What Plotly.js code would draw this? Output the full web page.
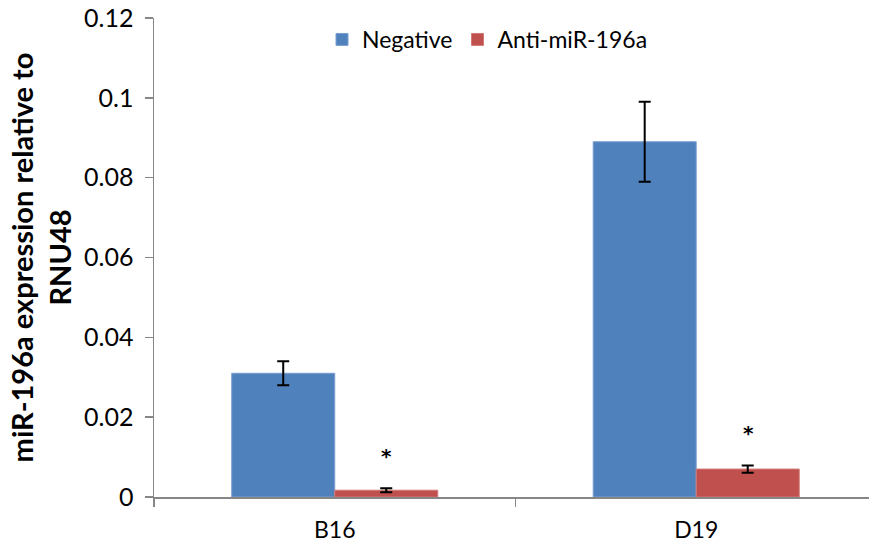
<!DOCTYPE html>
<html><head><meta charset="utf-8">
<script src="https://cdn.plot.ly/plotly-3.0.1.min.js"></script>
<style>body{margin:0;background:#fff}#c{width:869px;height:544px}</style>
</head><body><div id="c"></div>
<script>
const categories = ["B16", "D19"];
const negValues = [0.031, 0.089];
const negErrors = [0.003, 0.010];
const antiValues = [0.0017, 0.007];
const antiErrors = [0.0005, 0.0009];
const seriesNames = ["Negative", "Anti-miR-196a"];
const significance = ["*", "*"];
const yTicks = [0, 0.02, 0.04, 0.06, 0.08, 0.1, 0.12];
const yTickText = ["0", "0.02", "0.04", "0.06", "0.08", "0.1", "0.12"];

const FONT = "Lato, 'Open Sans', sans-serif";
const errStyle = {type: "data", visible: true, color: "#000", thickness: 2, width: 6};

const traces = [
  {type: "bar", name: seriesNames[0], x: categories, y: negValues,
   error_y: Object.assign({array: negErrors}, errStyle),
   marker: {color: "#4F81BD", line: {color: "#7A9FD0", width: 1}}},
  {type: "bar", name: seriesNames[1], x: categories, y: antiValues,
   error_y: Object.assign({array: antiErrors}, errStyle),
   marker: {color: "#C0504D", line: {color: "#D07A78", width: 1}}}
];

const annotations = categories.map((c, i) => ({
  x: c, y: antiValues[i] + antiErrors[i], xref: "x", yref: "y",
  text: "<b>" + significance[i] + "</b>", showarrow: false, xshift: 52, yshift: 32,
  yanchor: "middle", font: {family: "'DejaVu Sans', sans-serif", size: 20, color: "#000"}
}));

const layout = {
  width: 869, height: 544,
  margin: {l: 154, r: 0, t: 18, b: 47},
  paper_bgcolor: "#fff", plot_bgcolor: "#fff",
  barmode: "group", bargap: 0.43, bargroupgap: 0,
  font: {family: FONT, color: "#000"},
  showlegend: true,
  legend: {orientation: "h", x: 0.235, y: 1.0, xanchor: "left", yanchor: "top",
           font: {family: FONT, size: 23, color: "#000"}, bgcolor: "rgba(0,0,0,0)",
           itemwidth: 30, tracegroupgap: 0},
  xaxis: {type: "category", range: [-0.5, 1.478], showline: true, linecolor: "#868686", linewidth: 1.5,
          ticks: "outside", tickson: "boundaries", ticklen: 8, tickcolor: "#868686", tickwidth: 1.5,
          tickfont: {family: FONT, size: 23, color: "#000"}, ticklabelstandoff: 12,
          showgrid: false, zeroline: false, fixedrange: true},
  yaxis: {range: [0, 0.12], tickvals: yTicks, ticktext: yTickText,
          showline: true, linecolor: "#868686", linewidth: 1.5,
          ticks: "outside", ticklen: 8, tickcolor: "#868686", tickwidth: 1.5,
          tickfont: {family: FONT, size: 25, color: "#000"}, ticklabelstandoff: 6,
          showgrid: false, zeroline: false,
          title: {text: "<b>miR-196a expression relative to<br>RNU48</b>",
                  font: {family: FONT, size: 29, color: "#000"}, standoff: 4}},
  annotations: annotations
};

Plotly.newPlot("c", traces, layout, {displayModeBar: false, staticPlot: true});
</script>
</body></html>
